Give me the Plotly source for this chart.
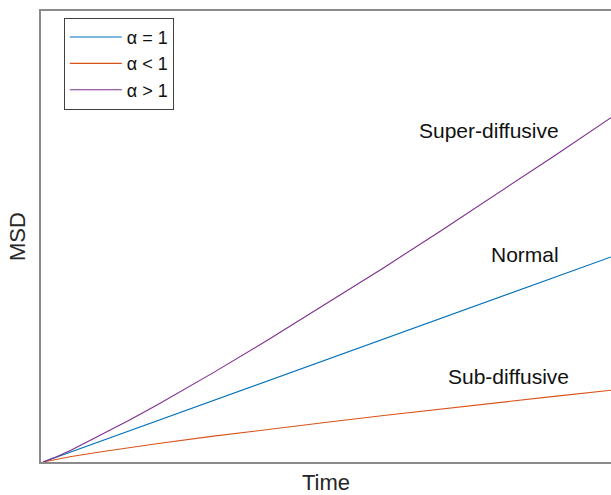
import plotly.graph_objects as go

# Data; MSD in arbitrary units, time normalised to 1
time = [0.0, 0.025, 0.05, 0.1, 0.15, 0.2, 0.3, 0.4, 0.5, 0.6, 0.7, 0.8, 0.9, 1.0]
msd_normal = [0.0, 0.025, 0.05, 0.10, 0.15, 0.20, 0.30, 0.40, 0.50, 0.60, 0.70, 0.80, 0.90, 1.00]
msd_sub = [0.0, 0.015, 0.027, 0.049, 0.070, 0.089, 0.126, 0.161, 0.194, 0.227, 0.259, 0.289, 0.320, 0.350]
msd_super = [0.0, 0.027, 0.059, 0.128, 0.201, 0.277, 0.436, 0.602, 0.773, 0.948, 1.127, 1.309, 1.493, 1.680]

series_names = ["α = 1", "α < 1", "α > 1"]
series_colors = ["#0072BD", "#D95319", "#7E2F8E"]

labels = ["Super-diffusive", "Normal", "Sub-diffusive"]
label_x = [0.785, 0.849, 0.820]
label_y = [1.615, 1.010, 0.415]

FONT = "Liberation Sans, Arial, Helvetica, sans-serif"

fig = go.Figure()
for name, ys, col in zip(series_names, [msd_normal, msd_sub, msd_super], series_colors):
    fig.add_trace(go.Scatter(x=time, y=ys, mode="lines", name=name,
                             line=dict(color=col, width=1.1)))

for txt, lx, ly in zip(labels, label_x, label_y):
    fig.add_annotation(x=lx, y=ly, xref="x", yref="y", text=txt, showarrow=False,
                       font=dict(size=21, color="#111111", family=FONT),
                       xanchor="center", yanchor="middle")

fig.update_layout(
    width=611, height=495,
    margin=dict(l=41, r=0, t=11, b=33),
    paper_bgcolor="white", plot_bgcolor="white",
    font=dict(family=FONT, color="#262626"),
    showlegend=True,
    legend=dict(x=0.04, y=0.985, xanchor="left", yanchor="top",
                bgcolor="white", bordercolor="#404040", borderwidth=1,
                font=dict(size=18, color="#111111", family=FONT),
                itemwidth=52, tracegroupgap=0),
    xaxis=dict(range=[-0.0035, 1.0], showgrid=False, zeroline=False,
               showticklabels=False, ticks="", showline=True, mirror=True,
               linecolor="#8a8a8a", linewidth=1.5, automargin=False,
               title=dict(text="Time", font=dict(size=22, color="#262626"), standoff=25)),
    yaxis=dict(range=[0, 2.2], showgrid=False, zeroline=False,
               showticklabels=False, ticks="", showline=True, mirror=False,
               linecolor="#8a8a8a", linewidth=1.5, automargin=False,
               title=dict(text="MSD", font=dict(size=22, color="#262626"), standoff=8)),
)

fig.write_html("out.html")
